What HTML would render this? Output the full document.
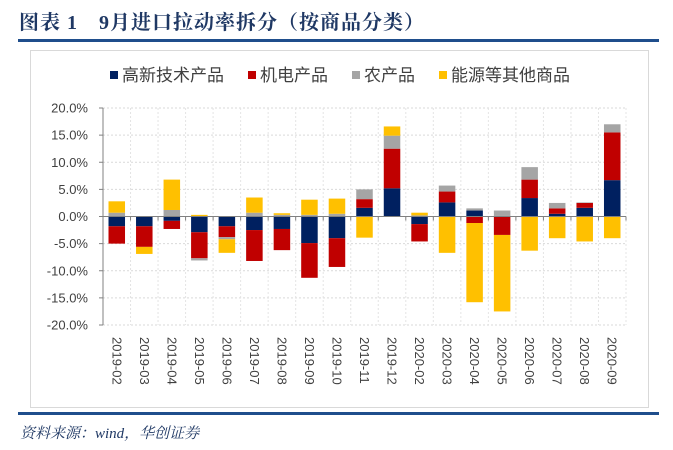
<!DOCTYPE html>
<html><head><meta charset="utf-8">
<style>
body{margin:0;background:#fff;width:673px;height:450px;overflow:hidden;font-family:"Liberation Sans","Noto Sans CJK SC",sans-serif;}
#title{position:absolute;left:19px;top:6px;font-family:"Liberation Serif","Noto Serif CJK SC",serif;font-weight:bold;font-size:20px;color:#1f3864;letter-spacing:1px;}
.hr{position:absolute;left:18px;width:641px;height:3px;background:#1f4e8c;}
#frame{position:absolute;left:30px;top:50px;width:617px;height:356px;border:1px solid #d9d9d9;}
#source{position:absolute;left:20px;top:422px;font-family:"Liberation Serif","Noto Serif CJK SC",serif;font-style:italic;font-size:15px;color:#1f3864;}
svg{position:absolute;left:0;top:0;}
</style></head><body>
<div id="title">图表 1　9月进口拉动率拆分（按商品分类）</div>
<div class="hr" style="top:39px"></div>
<div id="frame"></div>
<div class="hr" style="top:412px"></div>
<div id="source">资料来源：wind，华创证券</div>
<svg id="chart" width="673" height="450"></svg>
<script>
const categories=["2019-02","2019-03","2019-04","2019-05","2019-06","2019-07","2019-08","2019-09","2019-10","2019-11","2019-12","2020-02","2020-03","2020-04","2020-05","2020-06","2020-07","2020-08","2020-09"];
const seriesNames=["高新技术产品","机电产品","农产品","能源等其他商品"];
const hiTech=[-1.8,-1.8,-0.8,-2.9,-1.8,-2.5,-2.3,-4.9,-4.0,1.6,5.2,-1.4,2.6,1.1,0.1,3.4,0.5,1.6,6.7];
const mechElec=[-3.2,-3.8,-1.5,-4.8,-2.0,-5.7,-3.9,-6.4,-5.3,1.6,7.3,-3.2,2.0,-1.2,-3.4,3.4,1.0,0.9,8.8];
const agri=[0.7,0,1.2,-0.4,-0.4,0.7,0.3,0.3,0.5,1.8,2.4,0.2,1.1,0.4,1.0,2.3,1.0,0.1,1.5];
const energy=[2.1,-1.3,5.6,0.3,-2.5,2.8,0.3,2.8,2.8,-3.9,1.7,0.5,-6.7,-14.6,-14.1,-6.3,-4.0,-4.6,-4.0];
const yTicks=[20,15,10,5,0,-5,-10,-15,-20];
const colors=["#002060","#c00000","#a5a5a5","#ffc000"];
const NS="http://www.w3.org/2000/svg";
const svg=document.getElementById('chart');
const x0=103,x1=626,yTop=108,yBot=325;
const yScale=v=>yTop+(20-v)/40*(yBot-yTop);
const band=(x1-x0)/categories.length;
const xCenter=i=>x0+band*(i+0.5);
function mk(tag,attrs){const e=document.createElementNS(NS,tag);for(const k in attrs)e.setAttribute(k,attrs[k]);svg.appendChild(e);return e;}
yTicks.forEach(t=>{
 const g=mk('line',{x1:x0,x2:x1,y1:yScale(t),y2:yScale(t),stroke:'#d9d9d9','stroke-dasharray':'2,2'});
 
 
 const tk=mk('line',{x1:x0-4,x2:x0,y1:yScale(t),y2:yScale(t),stroke:'#808080'});
 
 
 const l=mk('text',{x:88,y:yScale(t)+4.5,'text-anchor':'end','font-size':'13px',fill:'#404040'});
 l.textContent=t.toFixed(1)+'%';
 
 
});
for(let i=0;i<=categories.length;i++){
 const x=x0+band*i;
 const g=mk('line',{x1:x,x2:x,y1:yTop,y2:yBot,stroke:'#e4e4e4','stroke-dasharray':'2,2'});
 
 
}
const ya=mk('line',{x1:x0,x2:x0,y1:yTop,y2:yBot,stroke:'#808080'});


const all=[hiTech,mechElec,agri,energy];
const bw=band*0.6;
categories.forEach((c,i)=>{
 let pos=0,neg=0;
 all.forEach((s,si)=>{
  const v=s[i]; if(!v)return;
  let a,b;
  if(v>0){a=pos;b=pos+v;pos=b;}else{a=neg;b=neg+v;neg=b;}
  const r=mk('rect',{x:xCenter(i)-bw/2,y:Math.min(yScale(a),yScale(b)),width:bw,height:Math.abs(yScale(a)-yScale(b)),fill:colors[si]});
  
  
 });
 const tk=mk('line',{x1:x0+band*(i+1),x2:x0+band*(i+1),y1:yScale(0),y2:yScale(0)+4,stroke:'#808080'});
 
 
 const t=mk('text',{x:0,y:0,'font-size':'13px',fill:'#404040',transform:`translate(${xCenter(i)-4.5},337) rotate(90)`});
 t.textContent=c;
 
 
});
const za=mk('line',{x1:x0,x2:x1,y1:yScale(0),y2:yScale(0),stroke:'#808080'});


const lx=[110,248,352,439];
seriesNames.forEach((n,i)=>{
 const r=mk('rect',{x:lx[i],y:71,width:8,height:8,fill:colors[i]});
 
 
 const t=mk('text',{x:lx[i]+12,y:81,'font-size':'17px',fill:'#404040'});
 t.textContent=n;
 
 
});
</script>
</body></html>
